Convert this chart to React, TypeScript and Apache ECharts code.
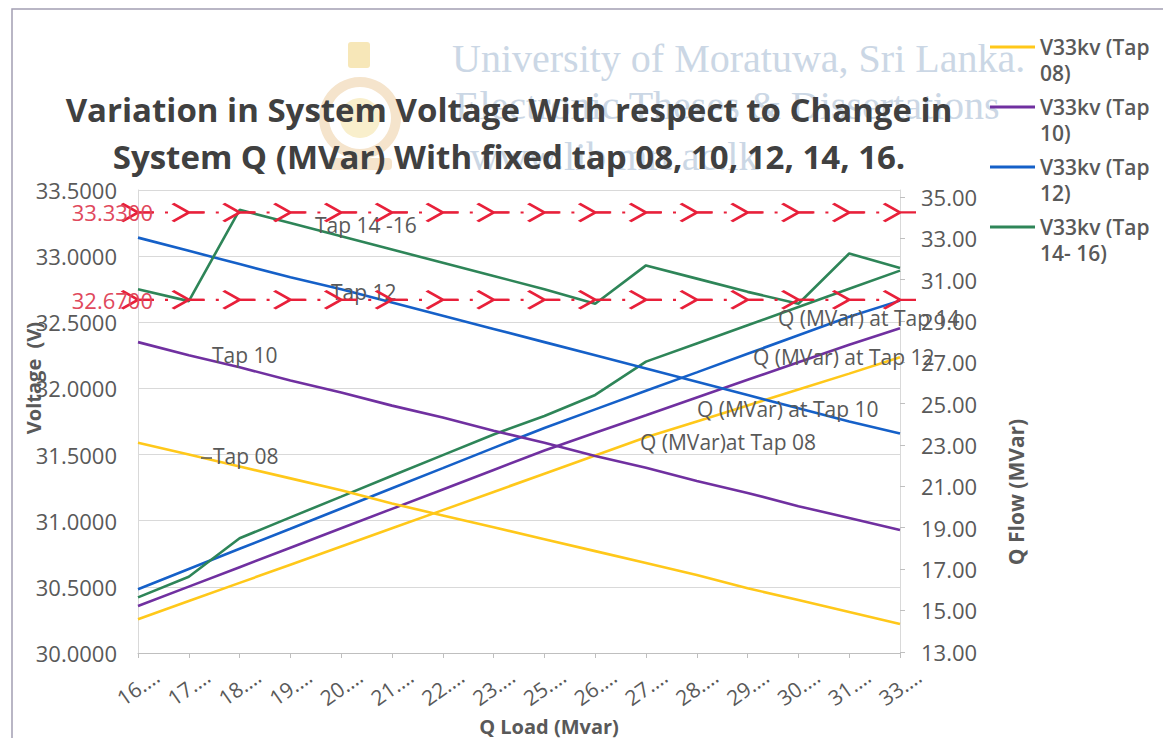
import React, { useEffect, useRef } from "react";
import * as echarts from "echarts";

// Q load categories (values truncated on the axis)
const qLoad = ["16.…", "17.…", "18.…", "19.…", "20.…", "21.…", "22.…", "23.…", "25.…", "26.…", "27.…", "28.…", "29.…", "30.…", "31.…", "33.…"];

// Bus voltage (left axis)
const vTap08 = [31.59, 31.5, 31.41, 31.32, 31.23, 31.13, 31.04, 30.95, 30.86, 30.77, 30.68, 30.59, 30.49, 30.4, 30.31, 30.22];
const vTap10 = [32.35, 32.25, 32.16, 32.06, 31.97, 31.87, 31.78, 31.68, 31.59, 31.49, 31.4, 31.3, 31.21, 31.11, 31.02, 30.93];
const vTap12 = [33.14, 33.04, 32.94, 32.84, 32.75, 32.65, 32.55, 32.45, 32.35, 32.25, 32.15, 32.05, 31.95, 31.85, 31.75, 31.66];
const vTap1416 = [32.75, 32.66, 33.35, 33.25, 33.15, 33.05, 32.95, 32.85, 32.75, 32.64, 32.93, 32.83, 32.73, 32.64, 33.02, 32.91];

// Reactive power flow (right axis)
const qTap08 = [14.57, 15.45, 16.33, 17.21, 18.09, 18.97, 19.85, 20.73, 21.61, 22.49, 23.37, 24.14, 24.91, 25.68, 26.45, 27.24];
const qTap10 = [15.21, 16.15, 17.09, 18.03, 18.97, 19.91, 20.85, 21.79, 22.73, 23.59, 24.44, 25.3, 26.15, 27.0, 27.85, 28.64];
const qTap12 = [16.02, 17.0, 17.98, 18.95, 19.93, 20.91, 21.88, 22.86, 23.82, 24.72, 25.62, 26.51, 27.41, 28.31, 29.2, 29.98];
const qTap14 = [15.63, 16.63, 18.49, 19.5, 20.5, 21.51, 22.51, 23.51, 24.4, 25.42, 27.03, 27.91, 28.79, 29.67, 30.55, 31.43];

// Voltage limits
const upperLimit = 33.33;
const lowerLimit = 32.67;

// Right axis tick labels
const qFlowTicks = [13, 15, 17, 19, 21, 23, 25, 27, 29, 31, 33, 35];

const FONT = "'Open Sans', 'Noto Sans', sans-serif";
const SERIF = "'Liberation Serif', 'DejaVu Serif', serif";
const GREY = "#595959";
const RED = "#E8203A";
const YELLOW = "#FFC81A";
const PURPLE = "#7030A0";
const BLUE = "#1560C8";
const GREEN = "#2E8558";

// limit-line marker: two barbs meeting at the point, with a tail to the right
const ARROW = "path://M0,0 Q9,5 16,9 M0,18 Q9,13 16,9 L32,9";

function plotLine(name: string, data: number[], color: string, yAxisIndex: number) {
  return {
    name,
    type: "line",
    data,
    yAxisIndex,
    symbol: "none",
    showSymbol: false,
    lineStyle: { color, width: 2.6 },
    itemStyle: { color },
    z: 2,
    silent: true,
  };
}

function limitLine(name: string, value: number) {
  return {
    name,
    type: "line",
    yAxisIndex: 0,
    z: 5,
    clip: false,
    silent: true,
    data: qLoad.map((_, i) => (i === 0 ? { value, label: { show: true } } : value)),
    symbol: ARROW,
    symbolSize: [32, 18],
    showSymbol: true,
    showAllSymbol: true,
    itemStyle: { color: "rgba(0,0,0,0)", borderColor: RED, borderWidth: 3 },
    lineStyle: { color: RED, width: 2.2, type: [15, 12, 3, 20.8], dashOffset: 0 },
    label: {
      show: false,
      position: "left",
      distance: 0,
      offset: [33, 0],
      color: "#E0485C",
      fontSize: 22,
      fontFamily: FONT,
      formatter: (p: any) => Number(p.value).toFixed(4),
    },
  };
}

function note(text: string, x: number, y: number, extra: any = {}, rotation = 0) {
  return {
    type: "text",
    x,
    y,
    rotation,
    z: 3,
    silent: true,
    style: {
      text,
      fill: GREY,
      fontSize: 21,
      fontFamily: FONT,
      align: "left",
      verticalAlign: "middle",
      ...extra,
    },
  };
}

export default function App() {
  const ref = useRef<HTMLDivElement>(null);

  useEffect(() => {
    if (!ref.current) return;
    const chart = echarts.init(ref.current, undefined, { renderer: "svg" });

    const legendNames = ["V33kv (Tap 08)", "V33kv (Tap 10)", "V33kv (Tap 12)", "V33kv (Tap 14- 16)"];

    chart.setOption({
      animation: false,
      backgroundColor: "#ffffff",
      title: {
        text: "Variation in System Voltage With respect to Change in\nSystem Q (MVar) With fixed tap 08, 10, 12, 14, 16.",
        left: 504,
        top: 81,
        textAlign: "center",
        textStyle: { fontFamily: FONT, fontSize: 33, fontWeight: "bold", color: "#404040", lineHeight: 47 },
      },
      legend: {
        data: legendNames,
        orient: "vertical",
        left: 990,
        top: 8,
        padding: 0,
        icon: "rect",
        itemWidth: 45,
        itemHeight: 3,
        itemGap: -18,
        selectedMode: false,
        // an empty first line keeps the first text line level with the swatch
        formatter: (name: string) => "\n" + name.replace(" (Tap ", " (Tap\n"),
        textStyle: {
          color: GREY,
          fontSize: 21,
          fontFamily: FONT,
          fontWeight: 600,
          lineHeight: 26,
        },
      },
      grid: { left: 138, right: 263, top: 190, bottom: 85, containLabel: false },
      xAxis: {
        type: "category",
        data: qLoad,
        boundaryGap: false,
        axisLine: { lineStyle: { color: "#bfbfbf", width: 1 } },
        axisTick: { show: true, length: 5, lineStyle: { color: "#bfbfbf" } },
        axisLabel: {
          interval: 0,
          rotate: 35,
          align: "center",
          verticalAlign: "middle",
          margin: 34,
          color: GREY,
          fontSize: 21,
          fontFamily: FONT,
        },
      },
      yAxis: [
        {
          type: "value",
          min: 30,
          max: 33.5,
          interval: 0.5,
          axisLine: { show: true, lineStyle: { color: "#d9d9d9" } },
          axisTick: { show: false },
          splitLine: { lineStyle: { color: "#d9d9d9", width: 1 } },
          axisLabel: {
            margin: 21,
            color: GREY,
            fontSize: 22,
            fontFamily: FONT,
            formatter: (v: number) => v.toFixed(4),
          },
        },
        {
          type: "value",
          position: "right",
          min: 12.94,
          max: 35.33,
          axisLine: { show: true, lineStyle: { color: "#d9d9d9" } },
          axisTick: { show: true, length: 5, customValues: qFlowTicks, lineStyle: { color: "#bfbfbf" } },
          splitLine: { show: false },
          axisLabel: {
            customValues: qFlowTicks,
            margin: 21,
            color: GREY,
            fontSize: 22,
            fontFamily: FONT,
            formatter: (v: number) => v.toFixed(2),
          },
        },
      ],
      series: [
        plotLine("Q (MVar)at Tap 08", qTap08, YELLOW, 1),
        plotLine("Q (MVar) at Tap 10", qTap10, PURPLE, 1),
        plotLine("Q (MVar) at Tap 12", qTap12, BLUE, 1),
        plotLine("Q (MVar) at Tap 14", qTap14, GREEN, 1),
        plotLine("V33kv (Tap 08)", vTap08, YELLOW, 0),
        plotLine("V33kv (Tap 10)", vTap10, PURPLE, 0),
        plotLine("V33kv (Tap 12)", vTap12, BLUE, 0),
        plotLine("V33kv (Tap 14- 16)", vTap1416, GREEN, 0),
        limitLine("Upper limit", upperLimit),
        limitLine("Lower limit", lowerLimit),
      ],
      graphic: [
        // chart frame
        {
          type: "rect",
          z: 0,
          silent: true,
          shape: { x: 12, y: 9, width: 1200, height: 800 },
          style: { fill: "none", stroke: "#a39fb3", lineWidth: 1.5 },
        },
        // library watermark
        {
          type: "group",
          z: 0,
          silent: true,
          children: [
            { type: "rect", shape: { x: 348, y: 42, width: 22, height: 26, r: 3 }, style: { fill: "#f7e7b8" } },
            { type: "ring", shape: { cx: 360, cy: 118, r: 41, r0: 31 }, style: { fill: "#f5e4cc" } },
            { type: "circle", shape: { cx: 360, cy: 118, r: 20 }, style: { fill: "#f9efcc" } },
            { type: "rect", shape: { x: 328, y: 158, width: 64, height: 12, r: 4 }, style: { fill: "#f5e4cc" } },
            {
              type: "text",
              x: 452,
              y: 58,
              style: { text: "University of Moratuwa, Sri Lanka.", fill: "#cbd7e5", fontSize: 40, fontFamily: SERIF, verticalAlign: "middle" },
            },
            {
              type: "text",
              x: 455,
              y: 105,
              style: { text: "Electronic Theses & Dissertations", fill: "#cbd7e5", fontSize: 40, fontFamily: SERIF, verticalAlign: "middle" },
            },
            {
              type: "text",
              x: 470,
              y: 156,
              style: { text: "www.lib.mrt.ac.lk", fill: "#cbd7e5", fontSize: 40, fontFamily: SERIF, verticalAlign: "middle" },
            },
          ],
        },
        // series notes inside the plot
        note("Tap 14 -16", 315, 225),
        note("Tap 12", 331, 292),
        note("Tap 10", 212, 355),
        note("Tap 08", 213, 456),
        { type: "line", z: 3, silent: true, shape: { x1: 201, y1: 458, x2: 212, y2: 458 }, style: { stroke: GREY, lineWidth: 1.5 } },
        note("Q (MVar) at Tap 14", 778, 318),
        note("Q (MVar) at Tap 12", 753, 357),
        note("Q (MVar) at Tap 10", 697, 409),
        note("Q (MVar)at Tap 08", 640, 442),
        // axis titles
        note("Voltage  (V)", 33, 378, { align: "center", fontWeight: "bold", fontSize: 20 }, Math.PI / 2),
        note("Q Flow (MVar)", 1016, 492, { align: "center", fontWeight: "bold", fontSize: 21 }, Math.PI / 2),
        note("Q Load (Mvar)", 549, 726, { align: "center", fontWeight: "bold", fontSize: 20 }),
      ],
    });

    return () => chart.dispose();
  }, []);

  return (
    <div
      ref={ref}
      style={{ position: "fixed", left: 0, top: 0, width: 1163, height: 738, background: "#ffffff" }}
    />
  );
}
